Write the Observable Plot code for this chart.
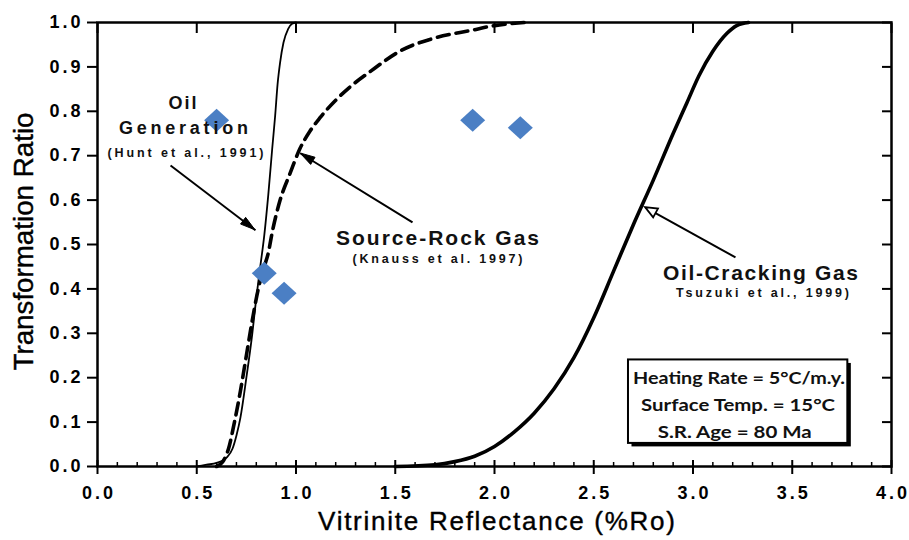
<!DOCTYPE html>
<html>
<head>
<meta charset="utf-8">
<script src="https://cdn.jsdelivr.net/npm/d3@7"></script>
<script src="https://cdn.jsdelivr.net/npm/@observablehq/plot@0.6"></script>
<style>
  body { margin: 0; background: #fff; }
  #chart svg { display: block; }
</style>
</head>
<body>
<div id="chart"></div>
<script>
// ---- Data ----
const oilGenRo = [0.50, 0.55, 0.60, 0.65, 0.68, 0.70, 0.72, 0.75, 0.78, 0.80, 0.82, 0.84, 0.86, 0.88, 0.895, 0.907, 0.92, 0.937, 0.96, 0.98, 1.00];
const oilGenTR = [0.00, 0.004, 0.008, 0.02, 0.04, 0.07, 0.11, 0.20, 0.30, 0.38, 0.45, 0.52, 0.61, 0.715, 0.79, 0.86, 0.91, 0.955, 0.985, 0.997, 1.00];

const srGasRo = [0.60, 0.63, 0.66, 0.69, 0.72, 0.75, 0.78, 0.81, 0.84, 0.86, 0.88, 0.92, 0.97, 1.02, 1.07, 1.12, 1.20, 1.27, 1.375, 1.53, 1.69, 1.88, 2.00, 2.15];
const srGasTR = [0.00, 0.01, 0.04, 0.10, 0.17, 0.25, 0.33, 0.40, 0.45, 0.48, 0.527, 0.60, 0.66, 0.716, 0.755, 0.785, 0.825, 0.854, 0.89, 0.937, 0.964, 0.982, 0.993, 1.00];

const crackRo = [1.50, 1.70, 1.80, 1.90, 2.00, 2.10, 2.20, 2.30, 2.40, 2.50, 2.60, 2.70, 2.80, 2.90, 2.97, 3.03, 3.10, 3.17, 3.22, 3.28];
const crackTR = [0.00, 0.004, 0.011, 0.023, 0.045, 0.078, 0.12, 0.175, 0.245, 0.335, 0.44, 0.545, 0.645, 0.75, 0.82, 0.88, 0.935, 0.975, 0.993, 1.00];

const diamondRo = [0.60, 0.84, 0.94, 1.89, 2.13];
const diamondTR = [0.78, 0.435, 0.39, 0.78, 0.763];

const xTickValues = [0, 0.5, 1.0, 1.5, 2.0, 2.5, 3.0, 3.5, 4.0];
const yTickValues = [0, 0.1, 0.2, 0.3, 0.4, 0.5, 0.6, 0.7, 0.8, 0.9, 1.0];
const xMinorValues = d3.range(1, 40).map(i => i / 10).filter(v => Math.abs(v * 2 - Math.round(v * 2)) > 1e-9);

// annotations
const smallLabelTexts = ["Oil", "Generation"];
const smallLabelRo    = [0.428, 0.433];
const smallLabelTR    = [0.818, 0.761];
const labelTexts = ["Source-Rock Gas", "Oil-Cracking Gas"];
const labelRo    = [1.713, 3.34];
const labelTR    = [0.514, 0.435];
const citeTexts  = ["(Hunt et al., 1991)", "(Knauss et al. 1997)", "Tsuzuki et al., 1999)"];
const citeRo     = [0.443, 1.713, 3.35];
const citeTR     = [0.707, 0.468, 0.39];

const arrowStartRo = [0.368, 1.587, 3.214];
const arrowStartTR = [0.678, 0.550, 0.471];
const arrowEndRo   = [0.796, 1.023, 2.761];
const arrowEndTR   = [0.532, 0.705, 0.583];
const arrowHeadKind = ["filled", "filled", "open"];

const boxLines = ["Heating Rate = 5°C/m.y.", "Surface Temp. = 15°C", "S.R. Age = 80 Ma"];
const boxLineRo = [3.232, 3.227, 3.21];
const boxLineTR = [0.198, 0.137, 0.077];
const boxX1 = [2.675], boxX2 = [3.78], boxY1 = [0.052], boxY2 = [0.24];

// ---- tables ----
const oilGen = oilGenRo.map((x, i) => ({x, y: oilGenTR[i]}));
const srGas = srGasRo.map((x, i) => ({x, y: srGasTR[i]}));
const crack = crackRo.map((x, i) => ({x, y: crackTR[i]}));
const diamonds = diamondRo.map((x, i) => ({x, y: diamondTR[i]}));
const smallLabels = smallLabelTexts.map((t, i) => ({t, x: smallLabelRo[i], y: smallLabelTR[i]}));
const labels = labelTexts.map((t, i) => ({t, x: labelRo[i], y: labelTR[i]}));
const cites = citeTexts.map((t, i) => ({t, x: citeRo[i], y: citeTR[i]}));
const arrows = arrowStartRo.map((x1, i) => ({x1, y1: arrowStartTR[i], x2: arrowEndRo[i], y2: arrowEndTR[i], kind: arrowHeadKind[i]}));
const boxText = boxLines.map((t, i) => ({t, x: boxLineRo[i], y: boxLineTR[i]}));
const box = [{x1: boxX1[0], x2: boxX2[0], y1: boxY1[0], y2: boxY2[0]}];

const diamondSymbol = {
  draw(context, size) {
    const h = Math.sqrt(size / Math.PI);
    const hy = h * 0.92;
    context.moveTo(0, -hy);
    context.lineTo(h, 0);
    context.lineTo(0, hy);
    context.lineTo(-h, 0);
    context.closePath();
  }
};

function arrowHeads(index, scales) {
  const g = d3.create("svg:g");
  arrows.forEach(a => {
    const x1 = scales.x(a.x1), y1 = scales.y(a.y1), x2 = scales.x(a.x2), y2 = scales.y(a.y2);
    const dx = x2 - x1, dy = y2 - y1, L = Math.hypot(dx, dy), ux = dx / L, uy = dy / L;
    const open = a.kind === "open";
    const len = open ? 12 : 15, hw = open ? 5 : 4.2;
    const bx = x2 - ux * len, by = y2 - uy * len;
    const pts = [[x2, y2], [bx - uy * hw, by + ux * hw], [bx + uy * hw, by - ux * hw]];
    g.append("polygon")
      .attr("points", pts.map(p => p.join(",")).join(" "))
      .attr("fill", open ? "#fff" : "#000")
      .attr("stroke", "#000")
      .attr("stroke-width", open ? 1.8 : 1)
      .attr("stroke-linejoin", "miter");
  });
  return g.node();
}

const font = "'Liberation Sans', Arial, sans-serif";

const chart = Plot.plot({
  width: 909,
  height: 540,
  marginLeft: 97,
  marginRight: 18,
  marginTop: 22,
  marginBottom: 74,
  x: {domain: [0, 4]},
  y: {domain: [0, 1]},
  style: {fontFamily: font, color: "#000", background: "#fff", overflow: "visible"},
  marks: [
    // parameter box with shadow
    Plot.rect(box, {x1: "x1", x2: "x2", y1: "y1", y2: "y2", fill: "#000", dx: 3.5, dy: 3.5}),
    Plot.rect(box, {x1: "x1", x2: "x2", y1: "y1", y2: "y2", fill: "#fff", stroke: "#000", strokeWidth: 2}),
    Plot.text(boxText, {x: "x", y: "y", text: "t", fontSize: 17, fontWeight: "bold", fontFamily: "Lato, 'Open Sans', sans-serif", fill: "#111"}),

    // curves
    Plot.line(crack, {x: "x", y: "y", stroke: "#000", strokeWidth: 3.6, curve: "monotone-x"}),
    Plot.line(srGas, {x: "x", y: "y", stroke: "#000", strokeWidth: 3.6, strokeDasharray: "12,7", curve: "monotone-x"}),
    Plot.line(oilGen, {x: "x", y: "y", stroke: "#000", strokeWidth: 1.8, curve: "monotone-x"}),

    // data points
    Plot.dot(diamonds, {x: "x", y: "y", symbol: diamondSymbol, r: 12.5, fill: "#4b7fc4", stroke: "none"}),

    // annotations
    Plot.link(arrows, {x1: "x1", y1: "y1", x2: "x2", y2: "y2", stroke: "#000", strokeWidth: 2}),
    arrowHeads,
    Plot.text(smallLabels, {x: "x", y: "y", text: "t", fontSize: 18, fontWeight: "bold", fill: "#111"}),
    Plot.text(labels, {x: "x", y: "y", text: "t", fontSize: 21, fontWeight: "bold", fill: "#111"}),
    Plot.text(cites, {x: "x", y: "y", text: "t", fontSize: 12.5, fontWeight: "bold", fill: "#111"}),

    // frame and axes
    Plot.frame({stroke: "#000", strokeWidth: 2.5}),
    Plot.axisY(yTickValues, {anchor: "left", tickSize: 10, tickPadding: 7, strokeWidth: 2,
      tickFormat: d => d.toFixed(1), fontSize: 18, fontWeight: "bold", label: null}),
    Plot.axisY(yTickValues, {anchor: "right", tickSize: 10, dx: -10, strokeWidth: 2,
      tickFormat: () => "", label: null}),
    Plot.axisX(xTickValues, {anchor: "top", tickSize: 10, dy: 10, strokeWidth: 2,
      tickFormat: () => "", label: null}),
    Plot.axisX(xTickValues, {anchor: "bottom", tickSize: 8, tickPadding: 12, strokeWidth: 2,
      tickFormat: d => d.toFixed(1), fontSize: 18, fontWeight: "bold", label: null}),
    Plot.axisX(xTickValues, {anchor: "bottom", tickSize: 6, dy: -6, strokeWidth: 2,
      tickFormat: () => "", label: null}),
    Plot.axisX(xMinorValues, {anchor: "bottom", tickSize: 4, dy: -4, strokeWidth: 1.5,
      tickFormat: () => "", label: null}),

    // axis titles
    Plot.text(["Transformation Ratio"], {frameAnchor: "left", textAnchor: "middle", lineAnchor: "middle",
      dx: -73, dy: -3, rotate: -90, fontSize: 27, fill: "#000", stroke: "#000", strokeWidth: 0.4}),
    Plot.text(["Vitrinite Reflectance (%Ro)"], {frameAnchor: "bottom", textAnchor: "middle", lineAnchor: "middle",
      dx: 2, dy: 55, fontSize: 26, fill: "#000", stroke: "#000", strokeWidth: 0.4})
  ]
});

// fit text widths to the reference
const fit = {
  "Transformation Ratio": [258, "spacingAndGlyphs"],
  "Vitrinite Reflectance (%Ro)": [357, "spacing"],
  "Oil": [28, "spacing"],
  "Generation": [129, "spacing"],
  "(Hunt et al., 1991)": [156, "spacing"],
  "Source-Rock Gas": [203, "spacing"],
  "(Knauss et al. 1997)": [170, "spacing"],
  "Oil-Cracking Gas": [195, "spacing"],
  "Tsuzuki et al., 1999)": [173, "spacing"],
  "Heating Rate = 5°C/m.y.": [212, "spacingAndGlyphs"],
  "Surface Temp. = 15°C": [194, "spacingAndGlyphs"],
  "S.R. Age = 80 Ma": [154, "spacingAndGlyphs"]
};
d3.select(chart).selectAll("text").each(function() {
  const s = this.textContent;
  if (fit[s]) {
    this.setAttribute("textLength", fit[s][0]);
    this.setAttribute("lengthAdjust", fit[s][1]);
  } else if (/^\d\.\d$/.test(s)) {
    this.setAttribute("textLength", 31);
    this.setAttribute("lengthAdjust", "spacing");
  }
});

document.getElementById("chart").appendChild(chart);
</script>
</body>
</html>
